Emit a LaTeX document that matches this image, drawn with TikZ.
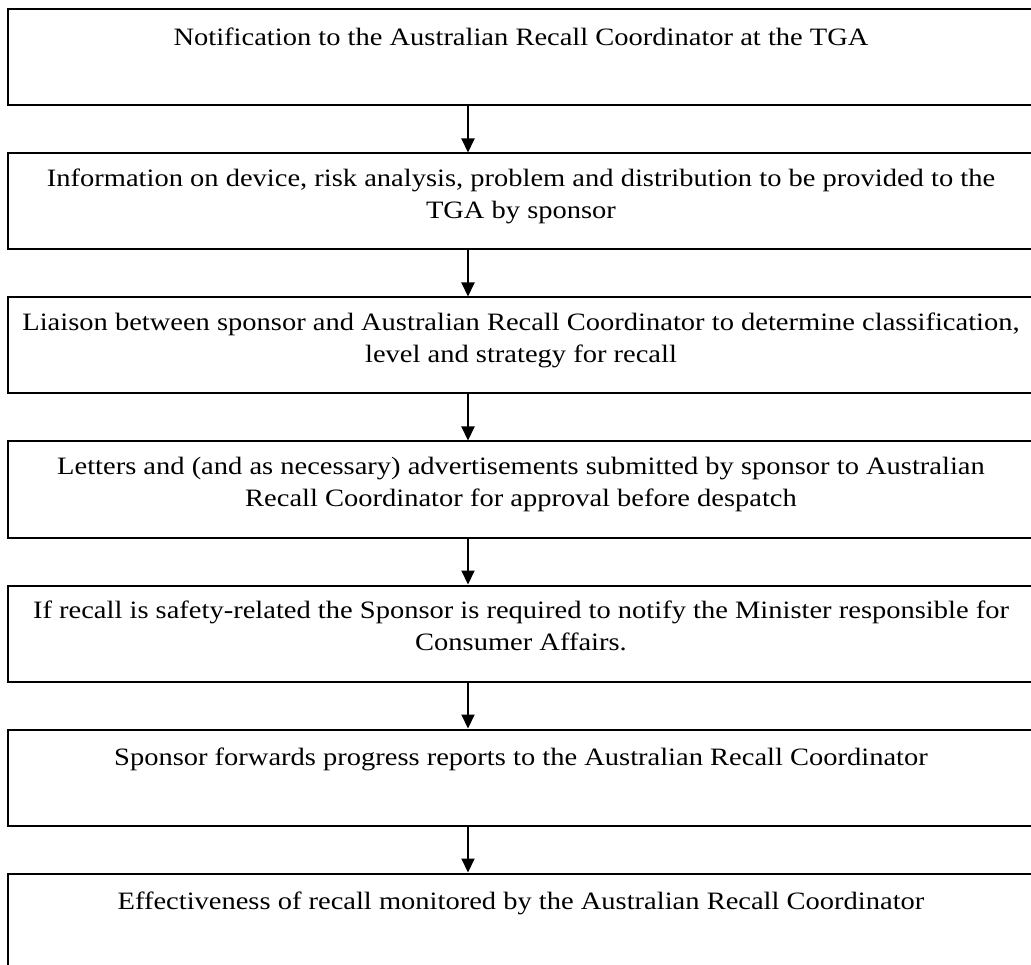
\documentclass[tikz,border=0pt]{standalone}
\usepackage{fontspec}
\setmainfont[FakeStretch=1.14]{Liberation Serif}
\usetikzlibrary{positioning,arrows.meta}

\begin{document}
\begin{tikzpicture}[x=1pt, y=-1pt,
  stage/.style={draw, line width=2pt, minimum width=1026pt, minimum height=96pt, inner sep=0pt},
  words/.style={align=center, font=\fontsize{25}{32}\selectfont, inner sep=0pt, anchor=north,
    execute at begin node={\rule{0pt}{20pt}}},
  flow/.style={line width=2pt, -{Triangle[length=14pt,width=13pt]}},
  node distance=46pt]
\useasboundingbox (0,0) rectangle (1031,965);
\clip (0,0) rectangle (1031,965);
%
\node [stage] (notify) at (521,57.5) {};
\node [stage, below=of notify] (inform) {};
\node [stage, below=of inform] (liaise) {};
\node [stage, below=of liaise] (letters) {};
\node [stage, below=of letters] (minister) {};
\node [stage, below=of minister] (progress) {};
\node [stage, below=of progress] (monitor) {};
%
\node [words] at ([yshift=-16.5pt]notify.north) {Notification to the Australian Recall Coordinator at the TGA};
\node [words] at ([yshift=-16.5pt]inform.north) {Information on device, risk analysis, problem and distribution to be provided to the\\TGA by sponsor};
\node [words] at ([yshift=-16.5pt]liaise.north) {Liaison between sponsor and Australian Recall Coordinator to determine classification,\\level and strategy for recall};
\node [words] at ([yshift=-16.5pt]letters.north) {Letters and (and as necessary) advertisements submitted by sponsor to Australian\\Recall Coordinator for approval before despatch};
\node [words] at ([yshift=-16.5pt]minister.north) {If recall is safety-related the Sponsor is required to notify the Minister responsible for\\Consumer Affairs.};
\node [words] at ([yshift=-16.5pt]progress.north) {Sponsor forwards progress reports to the Australian Recall Coordinator};
\node [words] at ([yshift=-16.5pt]monitor.north) {Effectiveness of recall monitored by the Australian Recall Coordinator};
%
\foreach \a/\b in {notify/inform, inform/liaise, liaise/letters, letters/minister, minister/progress, progress/monitor}
  \draw [flow] ([xshift=-53pt]\a.south) -- ([xshift=-53pt]\b.north);
%%%%%%%%%%%%%%%%%%%%%%%%%%%%%%%
\end{tikzpicture}
\end{document}
